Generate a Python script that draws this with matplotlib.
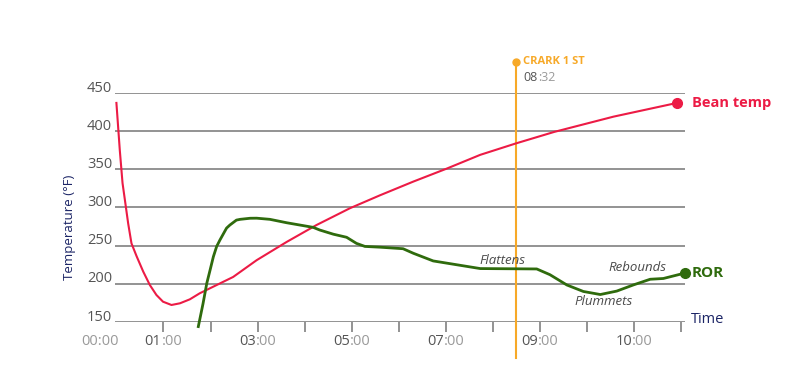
import matplotlib.pyplot as plt

plt.rcParams["font.family"] = ["Open Sans", "DejaVu Sans"]

# Bean temperature (°F) against roast time (minutes)
bean_t = [0.0, 0.036, 0.072, 0.13, 0.18, 0.25, 0.32, 0.43, 0.57, 0.71, 0.85,
          0.99, 1.17, 1.35, 1.56, 1.77, 2.48, 2.98, 3.62, 4.25, 4.96, 5.60,
          6.31, 7.02, 7.73, 8.49, 9.30, 10.56, 11.91]
bean_temp = [437, 406, 375, 332, 310, 279, 253, 236, 216, 198.5, 185.4,
             176.6, 172.3, 174.5, 179.7, 187.6, 209, 231, 255, 277, 299, 316,
             334, 351, 369, 384, 399, 419, 437]

# Rate of rise
ror_t = [1.74, 1.84, 1.92, 1.99, 2.06, 2.13, 2.20, 2.34, 2.41, 2.55, 2.63,
         2.84, 2.98, 3.26, 3.62, 3.90, 4.18, 4.32, 4.61, 4.89, 5.10, 5.28, 5.60,
         6.09, 6.31, 6.73, 7.23, 7.73, 8.93, 9.21, 9.57, 9.92, 10.28, 10.63,
         10.98, 11.34, 11.62, 12.07]
ror = [144, 174, 200.7, 218, 235.6, 249, 257.5, 273, 277, 283.5, 284.5,
       285.9, 286, 284.5, 280, 277, 274, 270.5, 265, 261, 253, 249, 248,
       246, 240, 230, 225, 220, 219.5, 212, 198.5, 190, 186, 190.5,
       198.5, 206, 207, 214]

y_ticks = [150, 200, 250, 300, 350, 400, 450]
x_ticks = [1, 2, 3, 4, 5, 6, 7, 8, 9, 10, 11, 12]
x_labels = {1: "01", 3: "03", 5: "05", 7: "07", 9: "09", 11: "10"}

crack_t = 8.49
crack_label = "CRARK 1 ST"

red = "#ec1b45"
green = "#2f6b0d"
orange = "#f7a928"
navy = "#1c2566"
grid_gray = "#808080"
dark = "#555555"
light = "#9a9a9a"

fig = plt.figure(figsize=(8, 3.9), dpi=100)
ax = fig.add_axes([115 / 800, 68 / 390, 570 / 800, 229 / 390])
ax.set_xlim(-0.03, 12.08)
ax.set_ylim(150, 450)
ax.axis("off")

for y in y_ticks:
    ax.axhline(y, color=grid_gray, lw=1.2, zorder=1)
    ax.annotate(str(y), xy=(0, y), xycoords=ax.get_yaxis_transform(),
                xytext=(-2, 1), textcoords="offset points",
                ha="right", va="baseline", fontsize=10.5, color=dark)

ax.vlines(x_ticks, 150 - 13, 150, color=grid_gray, lw=1.2, clip_on=False)

ax.annotate("00:00", xy=(-0.35, 125), ha="center", va="center",
            fontsize=10.5, color=light, annotation_clip=False)
for t, hh in x_labels.items():
    ax.annotate(hh, xy=(t, 125), xytext=(-1.5, 0), textcoords="offset points",
                ha="right", va="center", fontsize=10.5, color=dark,
                annotation_clip=False)
    ax.annotate(":00", xy=(t, 125), xytext=(-1.5, 0), textcoords="offset points",
                ha="left", va="center", fontsize=10.5, color=light,
                annotation_clip=False)

# first crack marker
ax.plot([crack_t, crack_t], [102.8, 490.7], color=orange, lw=1.5,
        clip_on=False, zorder=2)
ax.plot(crack_t, 490.7, "o", color=orange, ms=5, clip_on=False, zorder=3)
ax.text(8.64, 490.7, crack_label, color=orange, fontsize=8, fontweight="bold",
        ha="left", va="center", clip_on=False)
ax.annotate("08", xy=(8.64, 470), ha="left", va="center", fontsize=9,
            color=dark, annotation_clip=False)
ax.annotate(":32", xy=(8.64, 470), xytext=(10.5, 0), textcoords="offset points",
            ha="left", va="center", fontsize=9, color=light,
            annotation_clip=False)

ax.plot(bean_t, bean_temp, color=red, lw=1.5, zorder=4, clip_on=False,
        solid_joinstyle="round")
ax.plot(bean_t[-1], bean_temp[-1], "o", color=red, ms=7, zorder=5, clip_on=False)
ax.plot(ror_t, ror, color=green, lw=2, zorder=4, clip_on=False,
        solid_joinstyle="round")
ax.plot(ror_t[-1], ror[-1], "o", color=green, ms=7, zorder=5, clip_on=False)

ax.annotate("Bean temp", xy=(bean_t[-1], bean_temp[-1]), xytext=(11, 0),
            textcoords="offset points", ha="left", va="center", fontsize=10.5,
            fontweight="bold", color=red, annotation_clip=False)
ax.annotate("ROR", xy=(ror_t[-1], ror[-1]), xytext=(5, 0),
            textcoords="offset points", ha="left", va="center", fontsize=11,
            fontweight="bold", color=green, annotation_clip=False)

ax.text(8.21, 230, "Flattens", style="italic", fontsize=9.5, color="#4a4a4a",
        ha="center", va="center")
ax.text(10.34, 177.5, "Plummets", style="italic", fontsize=9.5, color="#4a4a4a",
        ha="center", va="center")
ax.text(11.08, 222, "Rebounds", style="italic", fontsize=9.5, color="#4a4a4a",
        ha="center", va="center")

ax.text(12.2, 153, "Time", color=navy, fontsize=10.5, ha="left", va="center",
        clip_on=False)
fig.text(70 / 800, (390 - 227) / 390, "Temperature (°F)", rotation=90,
         color=navy, fontsize=9.5, ha="center", va="center")

fig.savefig("out.png", dpi=100)
